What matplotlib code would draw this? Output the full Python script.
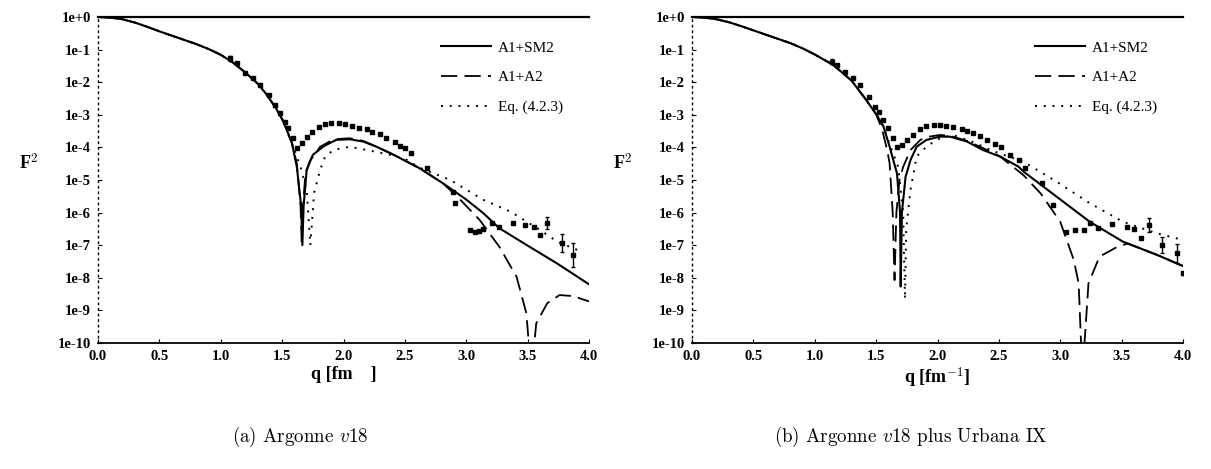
import matplotlib.pyplot as plt
import numpy as np
from matplotlib.ticker import FixedLocator, FuncFormatter

plt.rcParams['mathtext.fontset'] = 'cm'

# ---- panel (a): Argonne v18 ----  (F^2 given as log10 values)
a_sm2_q = [0, 0.1, 0.2, 0.3, 0.4, 0.5, 0.6, 0.7, 0.8, 0.9, 1.0, 1.1, 1.2, 1.3, 1.37, 1.45, 1.51,
           1.58, 1.62, 1.655, 1.665, 1.675, 1.70, 1.75, 1.84, 1.94, 2.05, 2.16, 2.27, 2.41, 2.62,
           2.81, 3.0, 3.14, 3.27, 3.49, 3.74, 4.0]
a_sm2_f = [0, -0.02, -0.07, -0.17, -0.3, -0.44, -0.57, -0.7, -0.83, -0.98, -1.16, -1.40, -1.70,
           -2.04, -2.36, -2.8, -3.2, -3.87, -4.6, -5.8, -7.0, -5.8, -4.69, -4.23, -3.96, -3.77,
           -3.75, -3.82, -3.98, -4.23, -4.64, -5.10, -5.6, -6.02, -6.48, -6.99, -7.56, -8.2]

a_a2_q = [0, 0.1, 0.2, 0.3, 0.4, 0.5, 0.6, 0.7, 0.8, 0.9, 1.0, 1.1, 1.2, 1.3, 1.37, 1.45, 1.51,
          1.58, 1.62, 1.65, 1.66, 1.67, 1.69, 1.73, 1.81, 1.92, 2.05, 2.16, 2.27, 2.41, 2.62,
          2.81, 2.94, 3.11, 3.27, 3.41, 3.49, 3.53, 3.57, 3.66, 3.76, 3.87, 3.98, 4.0]
a_a2_f = [0, -0.02, -0.07, -0.17, -0.3, -0.44, -0.57, -0.7, -0.83, -0.98, -1.16, -1.40, -1.70,
          -2.04, -2.36, -2.8, -3.2, -3.87, -4.5, -5.8, -7.0, -5.8, -4.8, -4.39, -3.98, -3.75,
          -3.72, -3.80, -3.98, -4.23, -4.64, -5.10, -5.56, -6.23, -7.05, -7.97, -9.09, -11,
          -9.40, -8.78, -8.53, -8.56, -8.70, -8.72]

a_eq_q = [0, 0.1, 0.2, 0.3, 0.4, 0.5, 0.6, 0.7, 0.8, 0.9, 1.0, 1.1, 1.2, 1.3, 1.37, 1.45, 1.51,
          1.58, 1.65, 1.70, 1.73, 1.76, 1.81, 1.85, 1.92, 2.05, 2.19, 2.35, 2.5, 2.62, 2.87,
          3.14, 3.36, 3.60, 3.74, 3.94]
a_eq_f = [0, -0.02, -0.07, -0.17, -0.3, -0.44, -0.57, -0.7, -0.83, -0.98, -1.16, -1.40, -1.70,
          -2.04, -2.36, -2.8, -3.2, -3.87, -4.6, -5.3, -7.0, -5.4, -4.69, -4.28, -4.08, -3.98,
          -4.08, -4.2, -4.35, -4.62, -5.0, -5.61, -5.97, -6.53, -6.89, -7.2]

a_exp_q = [1.075, 1.13, 1.20, 1.265, 1.32, 1.39, 1.44, 1.48, 1.52, 1.55, 1.59, 1.62, 1.66, 1.70,
           1.74, 1.80, 1.85, 1.90, 1.96, 2.01, 2.07, 2.13, 2.19, 2.23, 2.30, 2.35, 2.42, 2.46,
           2.50, 2.55, 2.68, 2.89, 2.91, 3.03, 3.07, 3.10, 3.14, 3.21, 3.27, 3.38, 3.48, 3.55,
           3.60, 3.66, 3.78, 3.87]
a_exp_f = [-1.27, -1.42, -1.73, -1.88, -2.09, -2.39, -2.70, -2.95, -3.21, -3.42, -3.72, -4.03,
           -3.87, -3.67, -3.52, -3.38, -3.29, -3.26, -3.26, -3.29, -3.34, -3.39, -3.45, -3.52,
           -3.59, -3.72, -3.82, -3.96, -4.03, -4.18, -4.64, -5.36, -5.72, -6.53, -6.58, -6.55,
           -6.51, -6.33, -6.43, -6.33, -6.38, -6.43, -6.69, -6.33, -6.94, -7.30]
a_exp_err = [0.08] + [0.03] * 42 + [0.18, 0.28, 0.38]

# ---- panel (b): Argonne v18 plus Urbana IX ----
b_sm2_q = [0, 0.1, 0.2, 0.3, 0.4, 0.5, 0.6, 0.7, 0.8, 0.9, 1.0, 1.15, 1.3, 1.42, 1.50, 1.56,
           1.61, 1.67, 1.695, 1.70, 1.71, 1.74, 1.78, 1.83, 1.91, 2.02, 2.10, 2.24, 2.37, 2.51,
           2.66, 2.70, 2.97, 3.24, 3.51, 3.79, 4.0]
b_sm2_f = [0, -0.02, -0.07, -0.16, -0.28, -0.41, -0.54, -0.67, -0.8, -0.96, -1.15, -1.47, -1.95,
           -2.55, -2.98, -3.36, -3.98, -4.8, -6.0, -8.27, -6.0, -4.9, -4.39, -3.98, -3.77, -3.67,
           -3.67, -3.82, -4.08, -4.28, -4.59, -4.74, -5.51, -6.28, -6.89, -7.30, -7.64]

b_a2_q = [0, 0.1, 0.2, 0.3, 0.4, 0.5, 0.6, 0.7, 0.8, 0.9, 1.0, 1.15, 1.3, 1.42, 1.50, 1.55,
          1.59, 1.61, 1.635, 1.65, 1.665, 1.69, 1.72, 1.78, 1.86, 1.93, 2.02, 2.10, 2.24, 2.37,
          2.51, 2.70, 2.84, 3.0, 3.11, 3.15, 3.18, 3.23, 3.32, 3.47, 3.55, 3.79, 4.0]
b_a2_f = [0, -0.02, -0.07, -0.16, -0.28, -0.41, -0.54, -0.67, -0.8, -0.96, -1.15, -1.47, -1.95,
          -2.55, -2.98, -3.47, -4.08, -4.49, -6.0, -8.07, -6.0, -5.0, -4.6, -4.08, -3.77, -3.67,
          -3.62, -3.64, -3.80, -4.02, -4.28, -4.85, -5.41, -6.28, -7.45, -8.17, -11, -8.17,
          -7.35, -7.04, -6.95, -7.30, -7.64]

b_eq_q = [0, 0.1, 0.2, 0.3, 0.4, 0.5, 0.6, 0.7, 0.8, 0.9, 1.0, 1.15, 1.3, 1.42, 1.50, 1.56,
          1.60, 1.68, 1.72, 1.735, 1.745, 1.78, 1.83, 1.88, 1.97, 2.05, 2.15, 2.3, 2.43, 2.70,
          2.97, 3.24, 3.51, 3.79, 4.0]
b_eq_f = [0, -0.02, -0.07, -0.16, -0.28, -0.41, -0.54, -0.67, -0.8, -0.96, -1.15, -1.47, -1.95,
          -2.55, -2.98, -3.36, -3.8, -4.6, -6.0, -8.66, -6.5, -5.3, -4.28, -4.08, -3.82, -3.67,
          -3.65, -3.85, -4.08, -4.44, -5.05, -5.71, -6.28, -6.64, -6.84]

b_exp_q = [1.14, 1.18, 1.25, 1.31, 1.37, 1.44, 1.49, 1.52, 1.56, 1.60, 1.64, 1.67, 1.71, 1.75,
           1.80, 1.86, 1.91, 1.97, 2.02, 2.07, 2.13, 2.20, 2.24, 2.29, 2.35, 2.40, 2.47, 2.52,
           2.59, 2.66, 2.71, 2.85, 2.94, 3.05, 3.12, 3.19, 3.24, 3.31, 3.42, 3.54, 3.60, 3.66,
           3.72, 3.83, 3.95, 4.0]
b_exp_f = [-1.37, -1.47, -1.68, -1.88, -2.09, -2.44, -2.75, -2.90, -3.16, -3.42, -3.72, -4.00,
           -3.93, -3.77, -3.62, -3.45, -3.34, -3.31, -3.31, -3.34, -3.38, -3.45, -3.49, -3.55,
           -3.65, -3.77, -3.90, -4.00, -4.23, -4.40, -4.64, -5.10, -5.77, -6.59, -6.53, -6.53,
           -6.33, -6.48, -6.35, -6.45, -6.51, -6.79, -6.38, -6.99, -7.25, -7.86]
b_exp_err = [0.08] + [0.03] * 41 + [0.2, 0.25, 0.3, 0.05]

y_ticks = list(range(0, -11, -1))
x_ticks = [0.0, 0.5, 1.0, 1.5, 2.0, 2.5, 3.0, 3.5, 4.0]
labels = ["A1+SM2", "A1+A2", "Eq. (4.2.3)"]
captions = ["(a) Argonne $v$18", "(b) Argonne $v$18 plus Urbana IX"]
xlabels = ["q [fm    ]", "q [fm$^{\\mathbf{-1}}$]"]

serif = "Liberation Serif"


def draw_panel(ax, sm2, a2, eq, exp, xlabel):
    ax.plot(sm2[0], 10.0 ** np.array(sm2[1]), color="black", lw=1.5, label=labels[0])
    ax.plot(a2[0], 10.0 ** np.array(a2[1]), color="black", lw=1.3, dashes=(9, 4), label=labels[1])
    ax.plot(eq[0], 10.0 ** np.array(eq[1]), color="black", lw=1.4, dashes=(1, 3.5), label=labels[2])
    f = np.array(exp[1])
    err = np.array(exp[2])
    yerr = [10.0 ** f - 10.0 ** (f - err), 10.0 ** (f + err) - 10.0 ** f]
    ax.errorbar(exp[0], 10.0 ** f, yerr=yerr, fmt="s", ms=2.6, color="black",
                elinewidth=1.0, capsize=1.5, capthick=1.0)

    ax.set_yscale("log")
    ax.set_xlim(0, 4.0)
    ax.set_ylim(1e-10, 1.0)
    ax.yaxis.set_major_locator(FixedLocator([10.0 ** k for k in y_ticks]))
    ax.yaxis.set_minor_locator(FixedLocator([]))
    ax.yaxis.set_major_formatter(FuncFormatter(
        lambda v, p: "1e+0" if v >= 0.5 else "1e%d" % round(np.log10(v))))
    ax.set_xticks(x_ticks)
    ax.xaxis.set_major_formatter(FuncFormatter(lambda v, p: "%.1f" % v))
    ax.tick_params(axis="both", direction="in", length=3, width=0.8, labelsize=10.5, pad=5)
    for t in ax.get_xticklabels() + ax.get_yticklabels():
        t.set_fontfamily(serif)
        t.set_fontweight("bold")

    ax.spines["right"].set_visible(False)
    ax.spines["top"].set_linewidth(1.6)
    ax.spines["bottom"].set_linewidth(1.3)
    ax.spines["left"].set_linestyle((0, (1, 3)))
    ax.spines["left"].set_linewidth(1.0)

    ax.set_xlabel(xlabel, fontfamily=serif, fontweight="bold", fontsize=13, labelpad=2)
    ax.set_ylabel("F$^{\\mathbf{2}}$", fontfamily=serif, fontweight="bold", fontsize=13,
                  rotation=0, labelpad=8)
    ax.yaxis.set_label_coords(-0.14, 0.52)

    leg = ax.legend(loc="upper right", bbox_to_anchor=(0.96, 0.945), frameon=False,
                    handlelength=3.3, handletextpad=0.45, labelspacing=1.05, borderaxespad=0,
                    prop={"family": serif, "size": 11})
    return leg


fig = plt.figure(figsize=(12.11, 4.69), dpi=100)
ax1 = fig.add_axes([98 / 1211, 1 - 343 / 469, 491 / 1211, 326 / 469])
ax2 = fig.add_axes([692 / 1211, 1 - 343 / 469, 491 / 1211, 326 / 469])

draw_panel(ax1, (a_sm2_q, a_sm2_f), (a_a2_q, a_a2_f), (a_eq_q, a_eq_f),
           (a_exp_q, a_exp_f, a_exp_err), xlabels[0])
draw_panel(ax2, (b_sm2_q, b_sm2_f), (b_a2_q, b_a2_f), (b_eq_q, b_eq_f),
           (b_exp_q, b_exp_f, b_exp_err), xlabels[1])

fig.text(300 / 1211, 1 - 437 / 469, captions[0], ha="center", va="center",
         fontfamily="cmr10", fontsize=13.7)
fig.text(911 / 1211, 1 - 437 / 469, captions[1], ha="center", va="center",
         fontfamily="cmr10", fontsize=13.7)

fig.savefig("out.png", dpi=100)
